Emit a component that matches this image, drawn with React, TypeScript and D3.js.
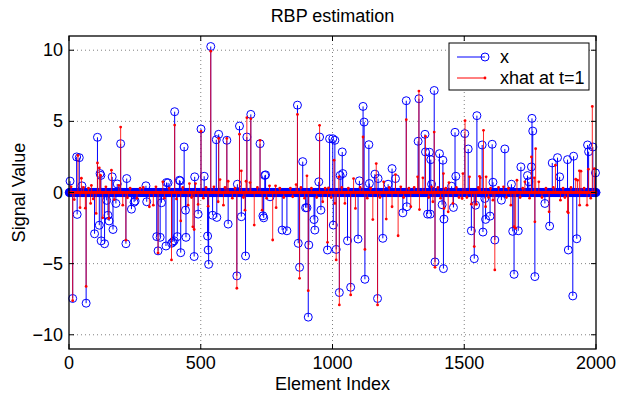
import React from "react";
import * as d3 from "d3";

const N = 2000;
const xTicks = [0, 500, 1000, 1500, 2000];
const yTicks = [-10, -5, 0, 5, 10];

// nonzero entries of x: [index, value]
const xSpikes: [number, number][] = [
  [4, 0.8], [14, -7.45], [29, 2.5], [31, -1.54], [39, 2.45], [49, 0.47], [65, -7.78], [97, -2.9],
  [108, 3.88], [115, -2.3], [118, 1.33], [121, 1.2], [122, -3.4], [135, -3.6], [143, -0.55], [148, -1.6],
  [152, -2.0], [164, 1.1], [167, -2.6], [178, -0.77], [183, 0.6], [196, 3.43], [216, -3.6], [219, 0.98],
  [237, -1.17], [247, -0.68], [251, -0.6], [292, 0.47], [295, -0.65], [333, -3.1], [338, -4.1], [346, -3.15],
  [351, -0.72], [368, -3.76], [370, 0.7], [376, 0.68], [389, -3.57], [394, -3.48], [399, -3.39], [401, 5.68],
  [411, -3.1], [419, 0.86], [422, 0.82], [424, -4.23], [437, 3.2], [442, -1.24], [444, -3.15], [475, -4.5],
  [477, 1.1], [490, -1.52], [501, 4.46], [513, 1.14], [526, -3.06], [528, -4.04], [530, -5.05], [538, 10.26],
  [545, -1.6], [559, 3.71], [561, -1.75], [568, 4.09], [599, 3.67], [604, -2.22], [637, -5.86], [639, 0.58],
  [647, 4.67], [654, -1.7], [670, -4.46], [675, 3.9], [690, 5.49], [725, 3.43], [736, -1.64], [739, -1.78],
  [743, 1.2], [746, 1.24], [763, -0.3], [809, -2.64], [827, -2.69], [867, 6.14], [870, -3.57], [875, -5.26],
  [887, 2.17], [898, -1.07], [903, -1.07], [908, -8.76], [910, -3.69], [930, -1.9], [933, -2.64], [948, 0.75],
  [951, 3.9], [956, -1.24], [981, -4.04], [989, 3.78], [1001, 3.78], [1003, -2.29], [1009, 3.67], [1014, -4.0],
  [1026, -7.03], [1029, 1.2], [1037, 2.85], [1039, 1.33], [1057, -3.39], [1069, -6.66], [1097, -3.27], [1102, 0.82],
  [1116, 6.05], [1120, 4.95], [1123, -6.1], [1138, 3.36], [1140, 0.63], [1161, 1.29], [1171, -7.45], [1173, 0.98],
  [1191, -3.22], [1211, 0.58], [1226, 1.68], [1239, 0.98], [1267, -1.43], [1280, 6.45], [1282, -1.0], [1325, 3.6],
  [1328, 6.59], [1351, 4.09], [1353, 2.85], [1361, -1.52], [1368, 2.83], [1371, -1.52], [1373, 2.31], [1376, 0.58],
  [1386, 7.17], [1389, -4.88], [1406, 2.73], [1416, -0.86], [1419, 2.27], [1421, -5.35], [1423, -1.87], [1452, 0.44],
  [1459, -1.05], [1465, 4.23], [1468, 1.14], [1502, 4.14], [1515, 3.06], [1527, -2.69], [1538, -4.65], [1543, -0.89],
  [1548, 5.4], [1568, 3.34], [1571, -2.78], [1578, -0.42], [1581, -1.89], [1598, -1.66], [1606, 3.39], [1609, 0.72],
  [1616, -3.34], [1641, -0.54], [1654, 3.06], [1679, 0.58], [1684, -2.73], [1689, -5.75], [1705, -2.69], [1715, 1.8],
  [1740, 1.19], [1745, 0.75], [1755, 1.8], [1757, 5.21], [1760, 4.32], [1768, -5.91], [1806, -0.77], [1824, -2.36],
  [1834, 2.08], [1854, 2.45], [1862, 1.1], [1892, 2.31], [1895, -4.04], [1912, -7.27], [1915, 2.55], [1927, -3.25],
  [1968, 3.34], [1972, 2.87], [1988, 3.2], [1998, 1.38],
];

// nonzero entries of xhat at t=1: [index, value]
const xhatSpikes: [number, number][] = [
  [8, 0.4], [14, -7.6], [20, -0.5], [34, 2.6], [42, -1.07], [47, 1.0], [55, 0.35], [62, -1.1], [65, -6.6],
  [74, 0.3], [82, -0.77], [85, 0.5], [92, -0.45], [103, -1.47], [108, 2.08], [115, 1.73], [120, 1.2], [128, -1.78],
  [140, 0.4], [151, -1.82], [161, 1.57], [172, -0.5], [189, 0.5], [196, 4.6], [204, -0.89], [216, -3.35],
  [222, -0.37], [232, 0.3], [258, -0.4], [270, 0.3], [282, 0.35], [305, -1.0], [320, -0.89], [330, 0.4],
  [338, -4.25], [356, 0.75], [362, -0.4], [380, 0.3], [389, -4.74], [401, 4.74], [408, -0.45], [424, -2.0],
  [432, 0.35], [452, -0.89], [457, 0.63], [465, -0.35], [470, -2.41], [475, -2.6], [480, 0.63], [490, -0.84],
  [501, 4.3], [510, -0.4], [520, 0.35], [528, -0.96], [538, 9.93], [550, 0.4], [566, -0.65], [568, 3.8],
  [573, 0.91], [586, -0.89], [592, 0.35], [599, 3.8], [604, 0.79], [620, -0.4], [630, 0.3], [637, -6.73],
  [647, 4.1], [654, 1.52], [662, -0.35], [668, -1.24], [672, 0.79], [675, 5.26], [687, 0.7], [690, 5.19],
  [703, -2.29], [715, 0.35], [725, 3.67], [733, -1.24], [750, -0.4], [761, 0.47], [773, -3.34], [784, 0.47],
  [786, -1.07], [800, 0.3], [815, -0.35], [840, 0.3], [849, -0.3], [862, 0.56], [867, 5.49], [875, -6.03],
  [880, 0.35], [894, -0.4], [903, 1.17], [908, -6.9], [920, 0.3], [940, -0.35], [951, 4.72], [963, -0.65],
  [972, 0.3], [981, -3.5], [985, 0.33], [995, -0.35], [1006, 2.27], [1009, -0.77], [1014, -4.74], [1024, 1.1],
  [1026, -7.9], [1035, 0.35], [1047, -0.77], [1060, 0.3], [1069, -7.2], [1080, 0.98], [1087, -1.12], [1105, 0.35],
  [1116, 3.9], [1123, -4.0], [1132, -0.4], [1145, 0.3], [1153, -1.9], [1166, 2.03], [1171, -7.9], [1180, -0.35],
  [1194, 0.75], [1204, -1.87], [1215, 0.35], [1226, -1.0], [1239, 1.26], [1249, -3.04], [1259, 0.4], [1270, -0.35],
  [1280, 5.12], [1290, 0.3], [1297, -1.0], [1310, 0.35], [1323, 1.1], [1328, 7.13], [1330, -1.2], [1343, 1.03],
  [1353, 3.95], [1365, -0.35], [1376, 0.4], [1381, -0.65], [1386, 4.25], [1389, -5.26], [1400, 0.35], [1410, -0.4],
  [1421, 1.33], [1423, -1.12], [1430, 0.3], [1439, -1.36], [1442, 0.7], [1457, -0.77], [1470, 0.35], [1480, -0.35],
  [1492, -0.42], [1495, 1.33], [1503, 5.05], [1510, -0.35], [1520, 1.1], [1527, -0.82], [1538, -3.8], [1546, -0.84],
  [1553, 0.35], [1558, 1.14], [1561, 1.03], [1573, 4.37], [1581, -1.0], [1583, 1.1], [1592, -0.35], [1600, 0.3],
  [1609, -0.54], [1616, -5.44], [1630, 0.35], [1649, 0.4], [1660, -0.35], [1668, 0.3], [1677, -0.89], [1689, -2.4],
  [1695, -2.52], [1700, 0.86], [1712, -0.35], [1722, 0.3], [1730, 0.75], [1748, -0.4], [1755, 2.5], [1766, 1.03],
  [1768, -2.06], [1771, 3.08], [1783, 0.75], [1795, -0.35], [1810, 0.3], [1822, -1.36], [1838, 0.35], [1846, 1.92],
  [1865, -0.54], [1875, 0.3], [1882, -0.35], [1892, -1.36], [1895, -1.43], [1905, 0.35], [1923, 0.93], [1930, 0.86],
  [1937, 1.52], [1938, -0.89], [1943, 1.5], [1955, 0.3], [1966, -0.89], [1971, 1.64], [1980, -0.4], [1986, 6.05],
  [1994, 1.68],
];

const W = 617;
const H = 396;
const plot = { left: 69, right: 596, top: 36, bottom: 349 };
const FONT = "'Liberation Sans', Arial, Helvetica, sans-serif";

function fill(spikes: [number, number][]): number[] {
  const m = new Map<number, number>(spikes);
  return d3.range(1, N + 1).map((i) => m.get(i) ?? 0);
}

export default function App() {
  const xs = d3.scaleLinear().domain([0, N]).range([plot.left, plot.right]);
  const ys = d3.scaleLinear().domain([-11, 11]).range([plot.bottom, plot.top]);
  const xVals = fill(xSpikes);
  const xhatVals = fill(xhatSpikes);
  const idx = d3.range(1, N + 1);
  const y0 = ys(0);
  const blueStems = xSpikes.map(([i, v]) => `M${xs(i)},${y0}V${ys(v)}`).join("");
  const redStems = xhatSpikes.map(([i, v]) => `M${xs(i)},${y0}V${ys(v)}`).join("");
  const fmt = (v: number) => (v < 0 ? "\u2212" + Math.abs(v) : String(v));
  const tickLen = 5;

  return (
    <svg width={W} height={H} style={{ position: "absolute", left: 0, top: 0, background: "#fff" }} fontFamily={FONT}>
      <rect x={0} y={0} width={W} height={H} fill="#fff" />
      <rect x={plot.left} y={plot.top} width={plot.right - plot.left} height={plot.bottom - plot.top} fill="#fff" />
      {/* grid */}
      <g stroke="#000" strokeWidth={0.7} strokeDasharray="1,3" opacity={0.7}>
        {xTicks.slice(1, -1).map((t) => (
          <line key={"gx" + t} x1={xs(t)} x2={xs(t)} y1={plot.top} y2={plot.bottom} />
        ))}
        {yTicks.map((t) => (
          <line key={"gy" + t} x1={plot.left} x2={plot.right} y1={ys(t)} y2={ys(t)} />
        ))}
      </g>
      {/* x series */}
      <path d={blueStems} stroke="#0000ff" strokeWidth={1} fill="none" />
      <line x1={plot.left} x2={plot.right} y1={y0} y2={y0} stroke="#0000ff" strokeWidth={1} />
      <g fill="none" stroke="#0000ff" strokeWidth={1}>
        {idx.map((i, k) => (
          <circle key={"c" + i} cx={xs(i)} cy={ys(xVals[k])} r={4} />
        ))}
      </g>
      {/* xhat series */}
      <path d={redStems} stroke="#ff0000" strokeWidth={1} fill="none" opacity={0.85} />
      <g fill="#ff0000">
        {idx.map((i, k) => (
          <circle key={"d" + i} cx={xs(i)} cy={ys(xhatVals[k])} r={1.4} />
        ))}
      </g>
      {/* frame + ticks */}
      <rect x={plot.left} y={plot.top} width={plot.right - plot.left} height={plot.bottom - plot.top} fill="none" stroke="#000" strokeWidth={1.3} />
      <g stroke="#000" strokeWidth={1}>
        {xTicks.map((t) => (
          <g key={"tx" + t}>
            <line x1={xs(t)} x2={xs(t)} y1={plot.bottom} y2={plot.bottom - tickLen} />
            <line x1={xs(t)} x2={xs(t)} y1={plot.top} y2={plot.top + tickLen} />
          </g>
        ))}
        {yTicks.map((t) => (
          <g key={"ty" + t}>
            <line x1={plot.left} x2={plot.left + tickLen} y1={ys(t)} y2={ys(t)} />
            <line x1={plot.right} x2={plot.right - tickLen} y1={ys(t)} y2={ys(t)} />
          </g>
        ))}
      </g>
      <g fontSize={18} fill="#000">
        {xTicks.map((t) => (
          <text key={"lx" + t} x={xs(t)} y={369} textAnchor="middle">{fmt(t)}</text>
        ))}
        {yTicks.map((t) => (
          <text key={"ly" + t} x={63} y={ys(t)} textAnchor="end" dominantBaseline="central">{fmt(t)}</text>
        ))}
        <text x={(plot.left + plot.right) / 2} y={390} textAnchor="middle">Element Index</text>
        <text transform={`translate(25,${(plot.top + plot.bottom) / 2}) rotate(-90)`} textAnchor="middle">Signal Value</text>
        <text x={(plot.left + plot.right) / 2} y={22} textAnchor="middle">RBP estimation</text>
      </g>
      {/* legend */}
      <g>
        <rect x={449} y={43} width={140} height={47} fill="#fff" stroke="#000" strokeWidth={1} />
        <line x1={457} x2={485} y1={57} y2={57} stroke="#0000ff" strokeWidth={1} />
        <circle cx={485} cy={57} r={4} fill="none" stroke="#0000ff" strokeWidth={1} />
        <line x1={457} x2={485} y1={78} y2={78} stroke="#ff0000" strokeWidth={1} />
        <circle cx={485} cy={78} r={1.4} fill="#ff0000" />
        <text x={500} y={57} fontSize={18} dominantBaseline="central">x</text>
        <text x={500} y={78} fontSize={18} dominantBaseline="central">xhat at t=1</text>
      </g>
    </svg>
  );
}
